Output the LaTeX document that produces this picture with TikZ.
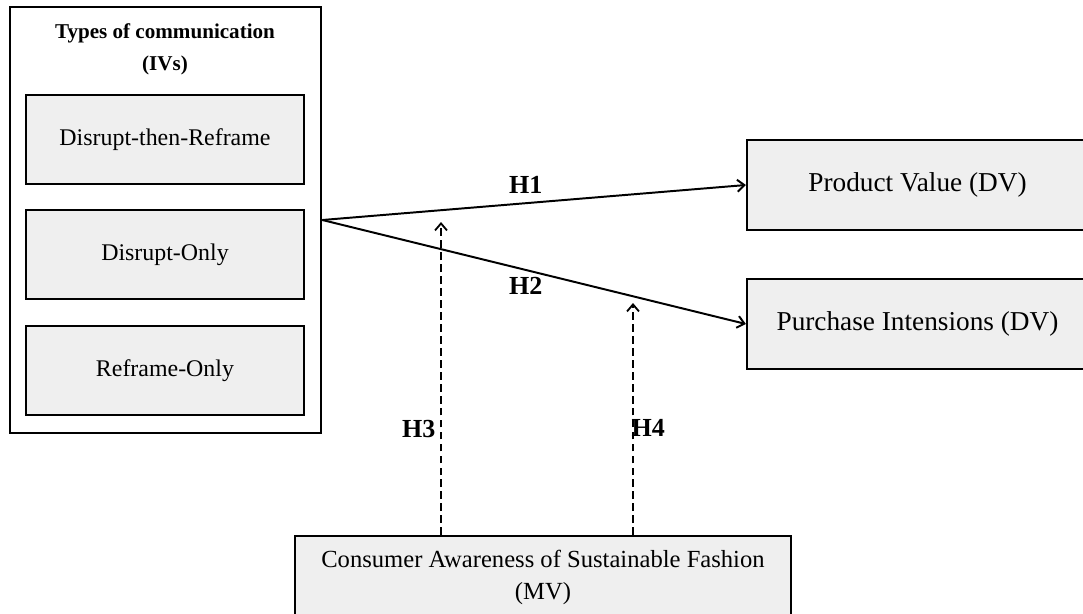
\documentclass[tikz,border=0pt]{standalone}
\usepackage{fontspec}
\setmainfont{Liberation Serif}
\usetikzlibrary{arrows.meta}
\definecolor{boxgray}{RGB}{239,239,239}

\begin{document}
\begin{tikzpicture}[
        x=0.025cm, y=-0.025cm,
        ivbox/.style={draw, line width=1.8pt, minimum width=7.775cm, minimum height=10.65cm},
        subbox/.style={draw, fill=boxgray, line width=1.5pt, minimum width=6.95cm, minimum height=2.225cm, font=\fontsize{17}{20}\selectfont},
        dvbox/.style={draw, fill=boxgray, line width=1.5pt, minimum width=8.525cm, minimum height=2.25cm, font=\fontsize{19.4}{23}\selectfont},
        mvbox/.style={draw, fill=boxgray, line width=1.5pt, minimum width=12.4cm, inner ysep=10pt, align=center, font=\fontsize{17.5}{22.8}\selectfont},
        hlabel/.style={font=\fontsize{18.5}{22}\selectfont\bfseries},
        hyparrow/.style={->, line width=1.4pt},
        modarrow/.style={->, line width=1.3pt, dash pattern=on 5.5pt off 3pt},
        >={Straight Barb[length=5pt,width=8.5pt]}]

        \useasboundingbox (0,0) rectangle (1083,613);
        \clip (0,0) rectangle (1083,613);

        % --- Types of communication (IVs) ---
        \node[ivbox] (iv) at (165.5,220) {};
        \node[align=center, font=\fontsize{15}{22.8}\selectfont\bfseries] (ivtitle) at (165,49) {Types of communication\\(IVs)};
        \node[subbox] (dtr) at (165,139.5) {Disrupt-then-Reframe};
        \node[subbox] (donly) at (165,254.5) {Disrupt-Only};
        \node[subbox] (ronly) at (165,370.5) {Reframe-Only};

        % --- Dependent variables ---
        \node[dvbox] (pv) at (917.5,185) {Product Value (DV)};
        \node[dvbox] (pi) at (917.5,324) {Purchase Intensions (DV)};

        % --- Moderator ---
        \node[mvbox, anchor=north, text depth=2cm] (mv) at (543,535) {Consumer Awareness of Sustainable Fashion\\(MV)};

        % H1, H2
        \draw[hyparrow] (iv.east) -- node[hlabel, pos=0.48, above=3pt] (h1) {H1} (pv.west);
        \draw[hyparrow] (iv.east) -- node[hlabel, pos=0.48, below=1pt] (h2) {H2} (pi.west);

        % H3, H4 (moderation)
        \coordinate (h3tip) at (441,222);
        \coordinate (h4tip) at (633,303);
        \draw[modarrow] (mv.north -| h3tip) -- node[hlabel, pos=0.34, left=0pt] (h3) {H3} (h3tip);
        \draw[modarrow] (mv.north -| h4tip) -- node[hlabel, pos=0.46, right=-5pt] (h4) {H4} (h4tip);

    \end{tikzpicture}
\end{document}
